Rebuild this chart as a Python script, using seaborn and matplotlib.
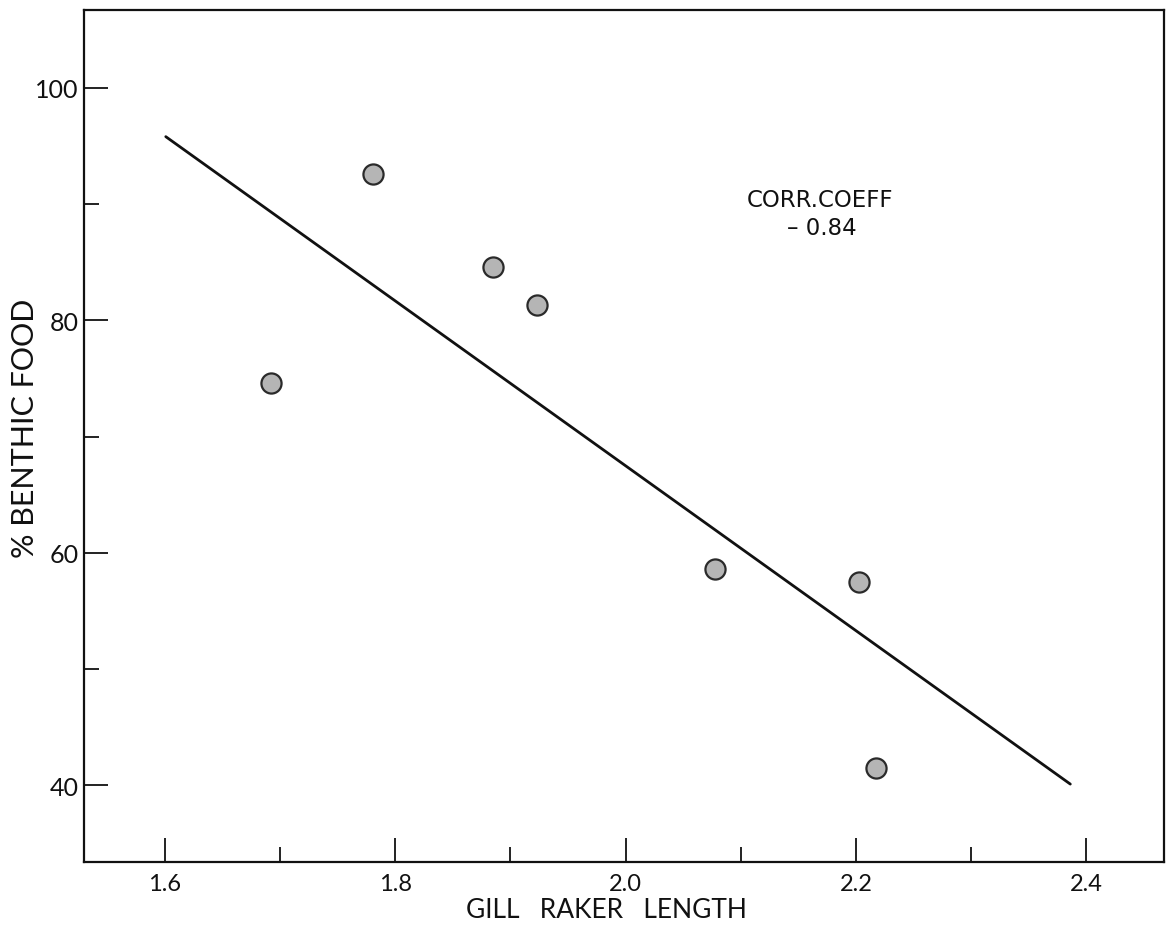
import matplotlib
matplotlib.use("Agg")
import matplotlib.pyplot as plt
import seaborn as sns
import pandas as pd
from matplotlib.ticker import MultipleLocator

# ---- data ----
gill_raker_length = [1.692, 1.781, 1.885, 1.923, 2.078, 2.203, 2.217]
benthic_food_pct = [74.6, 92.6, 84.6, 81.3, 58.6, 57.5, 41.5]

fit_x = [1.601, 2.386]
fit_y = [95.8, 40.1]

x_ticks = [1.6, 1.8, 2.0, 2.2, 2.4]
x_tick_labels = ["1.6", "1.8", "2.0", "2.2", "2.4"]
y_ticks = [40, 60, 80, 100]
y_tick_labels = ["40", "60", "80", "100"]

x_label = "GILL   RAKER   LENGTH"
y_label = "% BENTHIC FOOD"
corr_title = "CORR.COEFF"
corr_value = "\u2013 0.84"

# ---- figure ----
sns.set_style("ticks")
plt.rcParams["font.family"] = ["Lato", "DejaVu Sans"]

fig = plt.figure(figsize=(11.76, 9.37), dpi=100)
ax = fig.add_axes([0.0714, 0.079, 0.9181, 0.9093])

df = pd.DataFrame({"x": gill_raker_length, "y": benthic_food_pct})
fit = pd.DataFrame({"x": fit_x, "y": fit_y})

sns.lineplot(data=fit, x="x", y="y", ax=ax, color="#111111", linewidth=2.0,
             zorder=2)
sns.scatterplot(data=df, x="x", y="y", ax=ax, s=210, color="#b5b5b5",
                edgecolor="#2a2a2a", linewidth=1.6, zorder=3)

ax.set_xlim(1.530, 2.467)
ax.set_ylim(33.4, 106.7)

ax.set_xticks(x_ticks)
ax.set_xticklabels(x_tick_labels, fontsize=17)
ax.set_yticks(y_ticks)
ax.set_yticklabels(y_tick_labels, fontsize=18)
ax.xaxis.set_minor_locator(MultipleLocator(0.1))
ax.yaxis.set_minor_locator(MultipleLocator(10))

ax.tick_params(which="major", direction="in", length=17, width=1.3,
               color="#111111", labelcolor="#111111")
ax.tick_params(which="minor", direction="in", length=11, width=1.3,
               color="#111111")
ax.tick_params(axis="x", which="major", pad=8)
ax.tick_params(axis="y", which="major", pad=4)

for side in ["left", "right", "top", "bottom"]:
    ax.spines[side].set_visible(True)
    ax.spines[side].set_linewidth(1.6)
    ax.spines[side].set_color("#111111")

ax.set_xlabel("")
ax.set_ylabel("")
fig.text(0.516, 0.028, x_label, ha="center", va="center", fontsize=19,
         color="#111111")
fig.text(0.021, 0.543, y_label, ha="center", va="center", rotation=90,
         fontsize=22, color="#111111")

ax.text(2.105, 90.4, corr_title, ha="left", va="center", fontsize=16.5,
        family=["DejaVu Sans"], color="#111111")
ax.text(2.140, 88.0, corr_value, ha="left", va="center", fontsize=16.5,
        family=["DejaVu Sans"], color="#111111")

fig.savefig("out.png", dpi=100)
